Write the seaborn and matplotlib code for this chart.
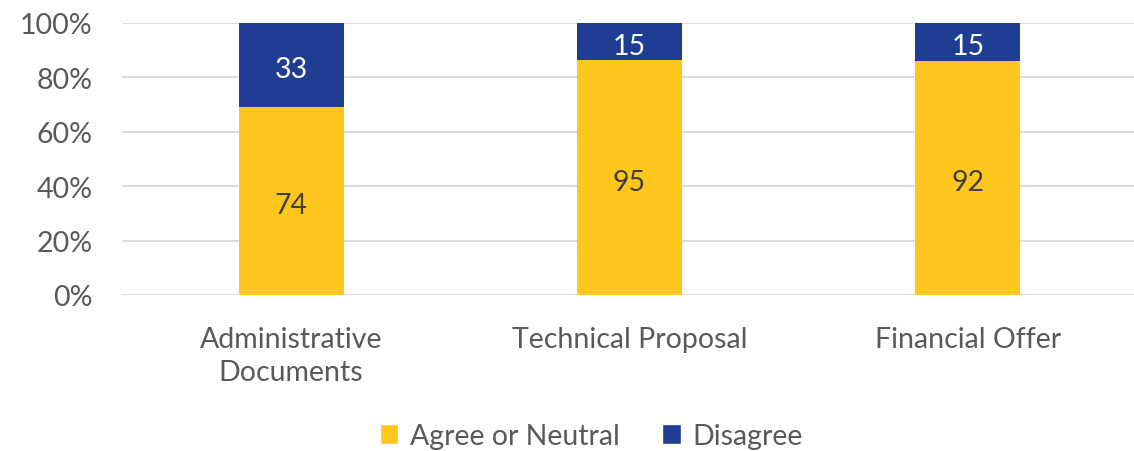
import matplotlib
matplotlib.use("Agg")
import matplotlib.pyplot as plt
import matplotlib.ticker as mticker
from matplotlib.patches import Patch
from matplotlib.transforms import offset_copy
import seaborn as sns
import pandas as pd

categories = ["Administrative\nDocuments", "Technical Proposal", "Financial Offer"]
agree_or_neutral = [74, 95, 92]
disagree = [33, 15, 15]
series_names = ["Agree or Neutral", "Disagree"]

YELLOW = "#FFC61E"
BLUE = "#1F3E93"
TEXT = "#595959"
FS = 20.5

sns.set_theme(style="white")
plt.rcParams["font.family"] = ["Lato", "DejaVu Sans"]

df = pd.DataFrame({"category": categories, "agree": agree_or_neutral, "disagree": disagree})
df["total"] = df["agree"] + df["disagree"]
df["agree_pct"] = df["agree"] / df["total"] * 100
df["disagree_pct"] = df["disagree"] / df["total"] * 100

fig = plt.figure(figsize=(11.34, 4.52), dpi=100)
ax = fig.add_axes([122 / 1134, 1 - 296 / 452, (1137 - 122) / 1134, (296 - 24) / 452])

sns.barplot(data=df, x="category", y="agree_pct", color=YELLOW, width=0.31,
            saturation=1, ax=ax, zorder=2, linewidth=0)
sns.barplot(data=df, x="category", y="disagree_pct", bottom=df["agree_pct"], color=BLUE,
            width=0.31, saturation=1, ax=ax, zorder=2, linewidth=0)

# segment value labels, nudged slightly down to sit optically centred
label_tf = offset_copy(ax.transData, fig=fig, x=0, y=-3, units="points")
for i, row in df.iterrows():
    ax.text(i, row["agree_pct"] / 2, f"{row['agree']}", ha="center", va="center",
            fontsize=FS, color="#404040", zorder=3, transform=label_tf)
    ax.text(i, row["agree_pct"] + row["disagree_pct"] / 2, f"{row['disagree']}",
            ha="center", va="center", fontsize=FS, color="white", zorder=3,
            transform=label_tf)

ax.set_ylim(0, 100)
ax.set_xlim(-0.5, 2.5)
ax.yaxis.set_major_locator(mticker.MultipleLocator(20))
ax.yaxis.set_major_formatter(mticker.FuncFormatter(lambda v, _: f"{v:.0f}%"))
ax.grid(axis="y", color="#D9D9D9", linewidth=1.3, zorder=0)
ax.set_axisbelow(True)
for s in ax.spines.values():
    s.set_visible(False)
ax.set_xlabel("")
ax.set_ylabel("")
ax.tick_params(axis="y", length=0, pad=21, labelsize=FS, labelcolor=TEXT)
ax.tick_params(axis="x", length=0, pad=22, labelsize=FS, labelcolor=TEXT)
for lbl in ax.get_xticklabels():
    lbl.set_linespacing(1.35)
    lbl.set_va("top")

handles = [Patch(facecolor=YELLOW, label=series_names[0]),
           Patch(facecolor=BLUE, label=series_names[1])]
fig.legend(handles=handles, loc="center", bbox_to_anchor=(591 / 1134, 1 - 437 / 452),
           ncol=2, frameon=False, fontsize=FS, labelcolor=TEXT, handlelength=0.65,
           handleheight=0.65, handletextpad=0.4, columnspacing=1.5, borderaxespad=0)

fig.savefig("out.png", dpi=100)
